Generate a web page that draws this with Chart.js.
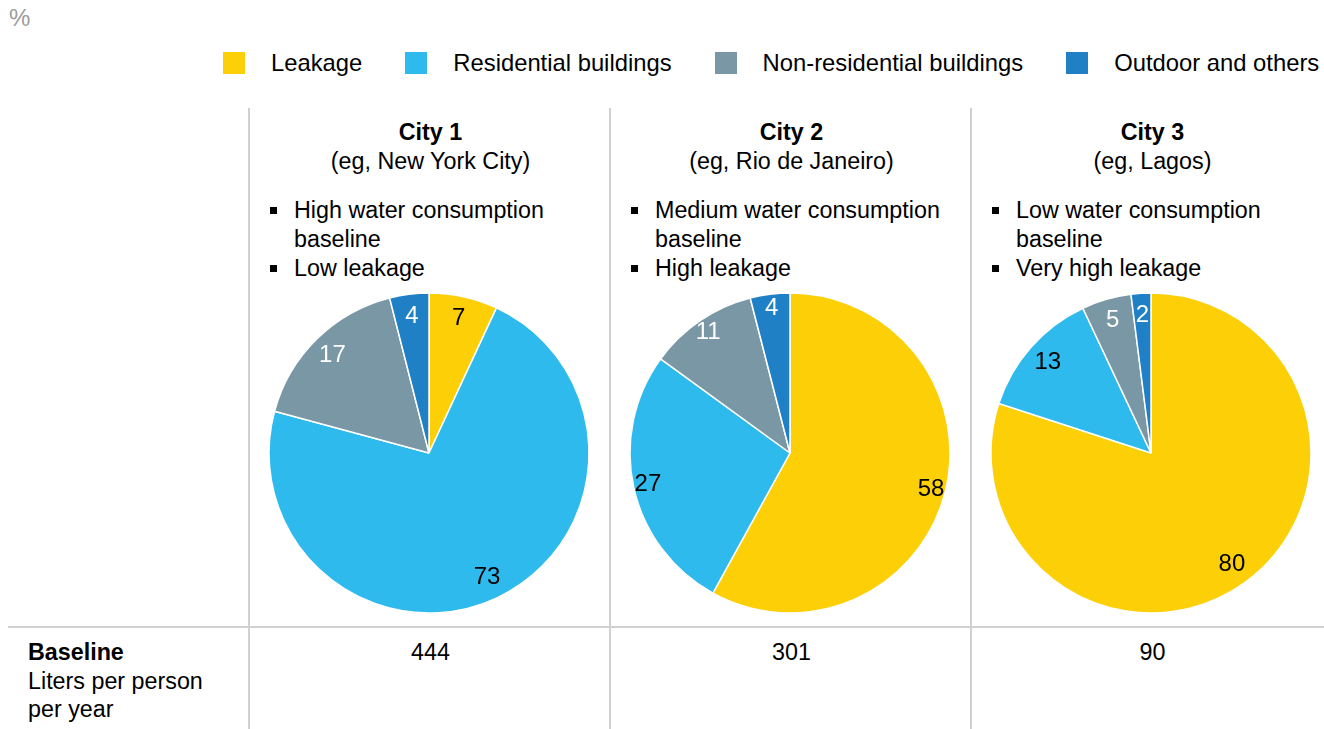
<!DOCTYPE html>
<html>
<head>
<meta charset="utf-8">
<title>Water consumption by end use</title>
<script src="https://cdn.jsdelivr.net/npm/chart.js@4.4.1/dist/chart.umd.min.js"></script>
<style>
html,body{margin:0;padding:0;background:#fff;}
body{width:1324px;height:729px;position:relative;overflow:hidden;font-family:"Liberation Sans",Arial,Helvetica,sans-serif;color:#000;font-size:23.3px;}
.unit{position:absolute;left:9px;top:4px;font-size:24px;line-height:28px;color:#9c9c9c;}
.legend{position:absolute;left:223px;top:48px;display:flex;align-items:center;line-height:30px;white-space:nowrap;font-size:23.8px;}
.legend .item{display:flex;align-items:center;margin-right:43px;}
.legend .sw{width:22px;height:22px;margin-right:26px;}
.vline{position:absolute;top:108px;bottom:0;width:2px;background:#d0d0d0;}
.hline{position:absolute;left:8px;right:0;top:626px;height:2px;background:#d0d0d0;}
.col{position:absolute;top:0;width:361px;height:729px;}
.col .name{position:absolute;top:118px;left:0;right:0;text-align:center;font-weight:bold;line-height:29px;}
.col .eg{position:absolute;top:147px;left:0;right:0;text-align:center;line-height:29px;}
.col ul{position:absolute;top:196px;left:20px;margin:0;padding:0;list-style:none;width:325px;}
.col li{position:relative;padding-left:24px;line-height:29px;}
.col li:before{content:'';position:absolute;left:0;top:11px;width:7px;height:7px;background:#000;}
.col canvas{position:absolute;left:9px;top:283px;}
.col .base{position:absolute;top:638px;left:0;right:0;text-align:center;line-height:29px;}
.rowhead{position:absolute;left:28px;top:638px;line-height:28.5px;}
.rowhead b{display:block;}
</style>
</head>
<body>
<div class="unit">%</div>
<div class="legend" id="legend"></div>
<div class="hline"></div>
<div class="rowhead"><b>Baseline</b>Liters per person<br>per year</div>
<div id="cols"></div>

<script>
// end-use categories, in slice order (clockwise from 12 o'clock)
const categories = ['Leakage', 'Residential buildings', 'Non-residential buildings', 'Outdoor and others'];
const colors = ['#fccf06', '#2fbaed', '#7a97a6', '#1f80c5'];
const labelColors = ['#000000', '#000000', '#ffffff', '#ffffff'];

const cities = ['City 1', 'City 2', 'City 3'];
const examples = ['(eg, New York City)', '(eg, Rio de Janeiro)', '(eg, Lagos)'];
const profiles = [
  ['High water consumption baseline', 'Low leakage'],
  ['Medium water consumption baseline', 'High leakage'],
  ['Low water consumption baseline', 'Very high leakage']
];

// share of consumption, %
const city1Shares = [7, 73, 17, 4];
const city2Shares = [58, 27, 11, 4];
const city3Shares = [80, 13, 5, 2];
const shares = [city1Shares, city2Shares, city3Shares];

// liters per person per year
const baselines = [444, 301, 90];

// how far out the slice numbers sit, as a share of the radius
const labelRadius = [0.86, 0.91, 0.86];

// numbers written inside each slice
const sliceLabels = {
  id: 'sliceLabels',
  afterDatasetsDraw(chart, args, opts){
    const ctx = chart.ctx;
    const meta = chart.getDatasetMeta(0);
    const values = chart.data.datasets[0].data;
    const k = opts.radius || 0.86;
    ctx.save();
    ctx.font = '24px "Liberation Sans", Arial, sans-serif';
    ctx.textAlign = 'center';
    ctx.textBaseline = 'middle';
    meta.data.forEach((arc, i) => {
      const p = arc.getProps(['x', 'y', 'startAngle', 'endAngle', 'outerRadius'], true);
      const mid = (p.startAngle + p.endAngle) / 2;
      const r = p.outerRadius * k;
      ctx.fillStyle = labelColors[i];
      ctx.fillText(String(values[i]), p.x + Math.cos(mid) * r, p.y + Math.sin(mid) * r);
    });
    ctx.restore();
  }
};

function renderLegend(){
  const box = document.getElementById('legend');
  categories.forEach((c, i) => {
    const item = document.createElement('div');
    item.className = 'item';
    item.innerHTML = `<span class="sw" style="background:${colors[i]}"></span><span>${c}</span>`;
    box.appendChild(item);
  });
}

function renderColumns(){
  const wrap = document.getElementById('cols');
  cities.forEach((name, k) => {
    const left = 249 + k * 361;
    const line = document.createElement('div');
    line.className = 'vline';
    line.style.left = (left - 1) + 'px';
    wrap.appendChild(line);

    const col = document.createElement('div');
    col.className = 'col';
    col.style.left = (left + 1) + 'px';
    const items = profiles[k].map(t => `<li>${t}</li>`).join('');
    col.innerHTML = `<div class="name">${name}</div><div class="eg">${examples[k]}</div>` +
      `<ul>${items}</ul><canvas width="340" height="340"></canvas><div class="base">${baselines[k]}</div>`;
    wrap.appendChild(col);

    new Chart(col.querySelector('canvas'), {
      type: 'pie',
      data: {
        labels: categories,
        datasets: [{data: shares[k], backgroundColor: colors, borderColor: '#ffffff', borderWidth: 1.5}]
      },
      options: {
        responsive: false,
        animation: false,
        radius: 160,
        layout: {padding: 0},
        plugins: {legend: {display: false}, tooltip: {enabled: false}, sliceLabels: {radius: labelRadius[k]}}
      },
      plugins: [sliceLabels]
    });
  });
}

renderLegend();
renderColumns();
</script>
</body>
</html>
